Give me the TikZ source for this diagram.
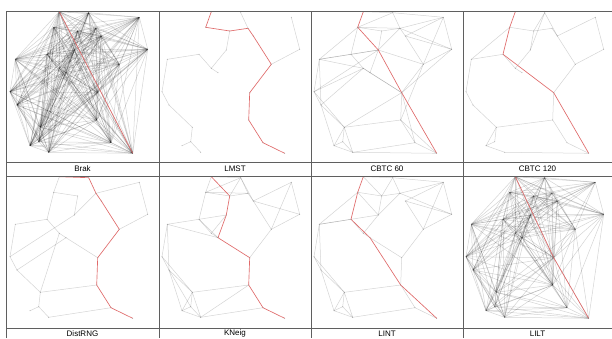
\documentclass[tikz,border=0pt]{standalone}
\usepackage{fontspec}
\setmainfont{Liberation Sans}
\usepackage{tikz}
\definecolor{RouteRed}{HTML}{E06A6A}
\definecolor{FrameGray}{HTML}{5F5F5F}

% sensor positions, pixels from the top left corner of a panel
\newcommand{\sensorlist}{T1/52.3/0.7, A/46.7/16.3, B/70.7/20, C/89/17.3,
  T2/81.7/1.7, W/94.3/25, D/112.3/53.3, E/140.7/38.3, F/132.3/6.3,
  G/67.3/39, H/52.3/57.3, I/59/61.7, J/40/43.3, K/8.3/48.3, L/3/80.7,
  M/10/94, N/33.3/116.3, O/31.7/130.7, P/23/134.7, Q/41.7/141.3,
  R/90.7/81.7, S/89.7/109, U/104/131.7, V/125.7/142.3}

\begin{document}
\begin{tikzpicture}[
    x=1pt, y=-1pt,
    link/.style={
      draw=black,
      draw opacity=0.17,
      line width=0.5pt
    },
    route/.style={
      draw=RouteRed,
      line width=0.65pt
    },
    frame/.style={
      draw=FrameGray,
      line width=1pt
    },
    caption/.style={
      font=\fontsize{8}{9}\selectfont,
      inner sep=0pt
    },
    sensor/.style={
      fill=black!45
    }
  ]
  \useasboundingbox (0,0) rectangle (612,338);
  \fill[white] (0,0) rectangle (612,338);

  % Brak
  \begin{scope}[shift={(7,11)}]
    \foreach \n/\x/\y in \sensorlist {\coordinate (\n) at (\x,\y);}
    \foreach \a/\ax/\ay [count=\i] in \sensorlist {
      \foreach \b/\bx/\by [count=\j] in \sensorlist {
        \ifnum\i<\j \draw[link] (\a) -- (\b); \fi
      }
    }
    \draw[route] (T1) -- (V);
    \foreach \n/\x/\y in \sensorlist {\fill[sensor] (\n) circle (0.4pt);}
  \end{scope}

  % LMST
  \begin{scope}[shift={(159,11)}]
    \foreach \n/\x/\y in \sensorlist {\coordinate (\n) at (\x,\y);}
    \foreach \a/\b in {C/T2, D/E, E/F, B/G, G/H, H/I, J/H, J/K, K/L, L/M,
                       M/N, N/O, O/P, O/Q}
      \draw[link] (\a) -- (\b);
    \foreach \a/\b in {T1/A, A/B, B/C, C/W, W/D, D/R, R/S, S/U, U/V}
      \draw[route] (\a) -- (\b);
    \foreach \n/\x/\y in \sensorlist {\fill[sensor] (\n) circle (0.4pt);}
  \end{scope}

  % CBTC 60
  \begin{scope}[shift={(311,11)}]
    \foreach \n/\x/\y in \sensorlist {\coordinate (\n) at (\x,\y);}
    \foreach \a/\b in {T1/T2, T2/A, T2/C, T2/F, A/B, A/C, B/C, C/W, C/F,
                       W/F, W/E, F/E, C/E, E/D, W/D, F/D, G/D, G/B, G/C,
                       G/J, A/J, A/K, J/K, K/G, K/H, J/H, H/I, G/I, I/R,
                       H/R, D/R, E/R, K/L, L/M, K/M, L/G, L/H, M/N, M/H,
                       L/N, N/R, N/S, N/O, N/P, O/P, O/Q, P/Q, N/Q, M/P,
                       Q/U, Q/V, S/U, U/V, R/S, S/D, S/V, U/R}
      \draw[link] (\a) -- (\b);
    \foreach \a/\b in {T1/A, A/G, G/R, R/V}
      \draw[route] (\a) -- (\b);
    \foreach \n/\x/\y in \sensorlist {\fill[sensor] (\n) circle (0.4pt);}
  \end{scope}

  % CBTC 120
  \begin{scope}[shift={(463,11)}]
    \foreach \n/\x/\y in \sensorlist {\coordinate (\n) at (\x,\y);}
    \foreach \a/\b in {T2/B, T2/W, T2/G, A/B, B/C, C/W, W/F, F/E, E/D,
                       W/D, D/R, B/G, G/H, J/H, H/I, J/K, K/A, K/L, L/M,
                       M/N, N/S, N/P, N/O, O/P, P/Q, Q/V, S/R, S/U, U/V}
      \draw[link] (\a) -- (\b);
    \foreach \a/\b in {T1/A, A/J, J/R, R/V}
      \draw[route] (\a) -- (\b);
    \foreach \n/\x/\y in \sensorlist {\fill[sensor] (\n) circle (0.4pt);}
  \end{scope}

  % DistRNG
  \begin{scope}[shift={(7,176)}]
    \foreach \n/\x/\y in \sensorlist {\coordinate (\n) at (\x,\y);}
    \foreach \a/\b in {T1/A, A/J, A/B, B/G, C/G, C/F, F/E, E/D, J/K, K/L,
                       L/M, L/G, M/I, M/N, N/O, O/P, O/Q, N/S, Q/U, J/H,
                       H/I, I/R, H/N}
      \draw[link] (\a) -- (\b);
    \foreach \a/\b in {T1/T2, T2/C, C/W, W/D, D/R, R/S, S/U, U/V}
      \draw[route] (\a) -- (\b);
    \foreach \n/\x/\y in \sensorlist {\fill[sensor] (\n) circle (0.4pt);}
  \end{scope}

  % KNeig
  \begin{scope}[shift={(159,176)}]
    \foreach \n/\x/\y in \sensorlist {\coordinate (\n) at (\x,\y);}
    \foreach \a/\b in {T1/T2, T1/A, A/T2, T2/B, T2/C, A/B, A/C, B/C, C/W,
                       T2/W, W/F, W/E, F/E, F/D, E/D, W/D, D/R, A/J, J/G,
                       J/H, J/I, H/I, G/H, J/K, K/I, K/L, L/M, K/M, M/N,
                       M/O, M/P, L/N, N/O, N/P, O/P, O/Q, P/Q, N/Q, N/S,
                       Q/U, Q/S}
      \draw[link] (\a) -- (\b);
    \foreach \a/\b in {T1/B, B/G, G/I, I/R, R/S, S/U, U/V}
      \draw[route] (\a) -- (\b);
    \foreach \n/\x/\y in \sensorlist {\fill[sensor] (\n) circle (0.4pt);}
  \end{scope}

  % LINT
  \begin{scope}[shift={(311,176)}]
    \foreach \n/\x/\y in \sensorlist {\coordinate (\n) at (\x,\y);}
    \foreach \a/\b in {T1/T2, T1/B, T2/B, T2/C, A/B, B/C, B/G, A/G, C/G,
                       T2/F, C/F, W/F, F/E, W/E, C/E, E/D, W/D, F/D, D/R,
                       R/I, R/S, J/K, K/A, K/G, K/L, L/M, K/M, M/N, M/P,
                       L/N, N/P, N/O, O/P, O/Q, P/Q, N/Q, N/S, Q/U, U/S,
                       U/V, H/I, J/H, G/H}
      \draw[link] (\a) -- (\b);
    \foreach \a/\b in {T1/A, A/J, J/I, I/S, S/V}
      \draw[route] (\a) -- (\b);
    \foreach \n/\x/\y in \sensorlist {\fill[sensor] (\n) circle (0.4pt);}
  \end{scope}

  % LILT
  \begin{scope}[shift={(463,176)}]
    \foreach \n/\x/\y in \sensorlist {\coordinate (\n) at (\x,\y);}
    \foreach \a/\ax/\ay [count=\i] in \sensorlist {
      \foreach \b/\bx/\by [count=\j] in \sensorlist {
        \ifnum\i<\j
          \pgfmathtruncatemacro\near{veclen(\ax-\bx,\ay-\by)<108}
          \ifnum\near=1 \draw[link] (\a) -- (\b); \fi
        \fi
      }
    }
    \draw[route] (T1) -- (R) -- (V);
    \foreach \n/\x/\y in \sensorlist {\fill[sensor] (\n) circle (0.4pt);}
  \end{scope}

  % Table lines
  \draw[frame] (6,338) -- (6,11) -- (612,11);
  \draw[frame] (6,162) -- (612,162);
  \draw[frame] (6,176) -- (612,176);
  \draw[frame] (6,328) -- (612,328);
  \foreach \cx in {159,311,463}
    \draw[frame] (\cx,11) -- (\cx,338);

  % Captions
  \node[caption] (brak) at (82.5,168.8) {Brak};
  \node[caption] (lmst) at (235,168.8) {LMST};
  \node[caption] (cbtcsixty) at (387,168.8) {CBTC 60};
  \node[caption] (cbtconetwenty) at (537.5,168.8) {CBTC 120};
  \node[caption] (distrng) at (82.5,333.5) {DistRNG};
  \node[caption] (kneig) at (235,333.5) {KNeig};
  \node[caption] (lint) at (387,333.5) {LINT};
  \node[caption] (lilt) at (537.5,333.5) {LILT};
\end{tikzpicture}
\end{document}
